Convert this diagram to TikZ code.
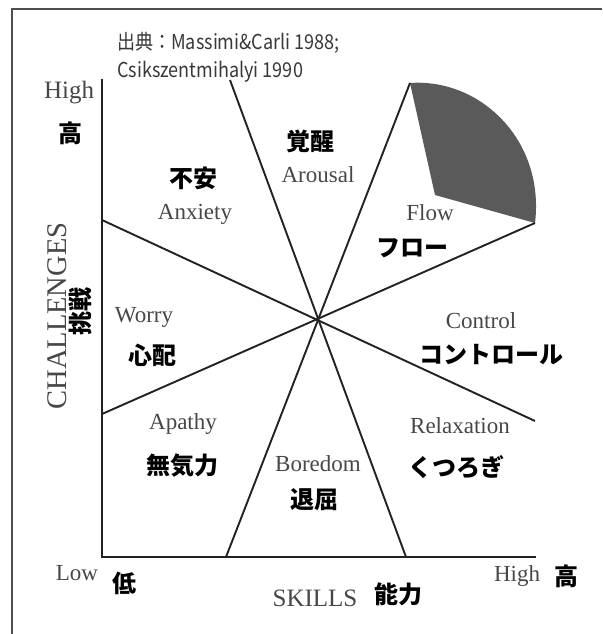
\documentclass[tikz,border=0pt]{standalone}
\usepackage{fontspec}
\setmainfont{Liberation Serif}
\newfontfamily\jp{Noto Sans CJK JP}
\newfontfamily\jpnarrow{Noto Sans CJK JP}[FakeStretch=0.88]
\definecolor{lbl}{HTML}{474747}
\definecolor{ink}{HTML}{222222}
\definecolor{flowfill}{HTML}{5A5A5A}
\begin{document}
\begin{tikzpicture}[x=1pt,y=-1pt,
  en/.style={font=\fontsize{23}{26}\selectfont, text=lbl, inner sep=0pt},
  ax/.style={font=\fontsize{25}{28}\selectfont, text=lbl, inner sep=0pt},
  ja/.style={font=\jp\bfseries\fontsize{24}{27}\selectfont, text=black, inner sep=0pt},
  cite/.style={font=\jpnarrow\fontsize{20.5}{28}\selectfont, text=ink!90, inner sep=0pt, align=left, anchor=north west},
  ln/.style={draw=ink, line width=1.9pt},
  frame/.style={draw=ink!80, line width=1.5pt}]
\useasboundingbox (0,0) rectangle (602,634);
% frame
\coordinate (fbl) at (12,634);
\coordinate (ftl) at (12,9);
\coordinate (ftr) at (602,9);
\draw[frame] (fbl) -- (ftl) -- (ftr);
% key points
\coordinate (O) at (102,557);
\coordinate (Ytop) at (102,80);
\coordinate (Xend) at (535,557);
\coordinate (C) at (318,319);
\coordinate (a1) at (230,80);
\coordinate (b1) at (406,557);
\coordinate (a2) at (410,83);
\coordinate (b2) at (226,557);
\coordinate (a3) at (102,220);
\coordinate (b3) at (535,421);
\coordinate (a4) at (102,414);
\coordinate (b4) at (535,223);
\coordinate (fin) at (435,195);
% flow wedge
\fill[flowfill] (a2) .. controls (480,78) and (545,140) .. (b4) -- (fin) -- cycle;
% axes
\draw[ln, line cap=rect] (Ytop) -- (O) -- (Xend);
% dividing lines
\draw[ln] (a1) -- (b1);
\draw[ln] (a2) -- (b2);
\draw[ln] (a3) -- (b3);
\draw[ln] (a4) -- (b4);
% citation
\node[cite] (cite) at (117,32) {出典：Massimi\&Carli 1988;\\Csikszentmihalyi 1990};
% axis labels
\node[ax] (yhigh) at (69,93) {High};
\node[ja] (ytall) at (70,133) {高};
\node[ax, font=\fontsize{28.5}{30}\selectfont, rotate=90] (chal) at (57,316) {CHALLENGES};
\node[ja, rotate=90] (chalj) at (80,311) {挑戦};
\node[en] (xlow) at (77,573) {Low};
\node[ja] (xlowj) at (124,583) {低};
\node[ax] (skills) at (315,598) {SKILLS};
\node[ja] (skillsj) at (398,594) {能力};
\node[en] (xhigh) at (517,576) {High};
\node[ja] (xhighj) at (566,576) {高};
% region labels
\node[ja] (arj) at (310,141) {覚醒};
\node[en] (ar) at (318,175) {Arousal};
\node[ja] (anj) at (193,178) {不安};
\node[en] (an) at (195,214) {Anxiety};
\node[en] (fl) at (430,213) {Flow};
\node[ja] (flj) at (412,248) {フロー};
\node[en] (wo) at (144,317) {Worry};
\node[ja] (woj) at (152,355) {心配};
\node[en] (co) at (481,321) {Control};
\node[ja] (coj) at (491,355) {コントロール};
\node[en] (ap) at (183,424) {Apathy};
\node[ja] (apj) at (182,466) {無気力};
\node[en] (bo) at (318,464) {Boredom};
\node[ja] (boj) at (314,500) {退屈};
\node[en] (re) at (460,426) {Relaxation};
\node[ja] (rej) at (456,467) {くつろぎ};
\end{tikzpicture}
\end{document}
